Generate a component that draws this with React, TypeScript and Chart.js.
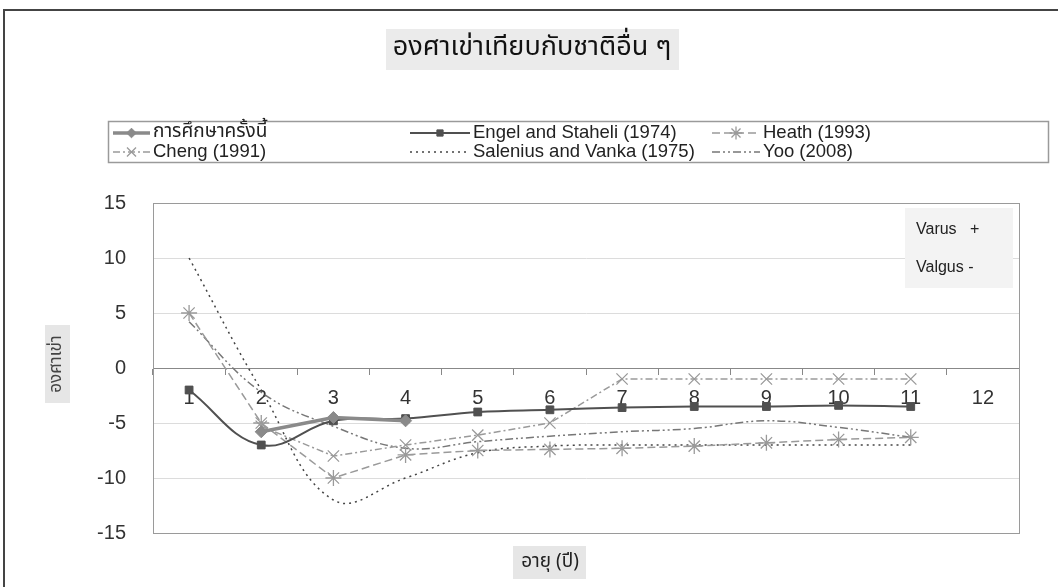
import React, { useEffect, useRef } from 'react';
import { Chart, registerables } from 'chart.js';
import { drawPoint } from 'chart.js/helpers';

Chart.register(...registerables);

const categories = ['1', '2', '3', '4', '5', '6', '7', '8', '9', '10', '11', '12'];
const studyValues = [null, -5.8, -4.5, -4.8, null, null, null, null, null, null, null, null];
const engelValues = [-2, -7, -4.8, -4.6, -4, -3.8, -3.6, -3.5, -3.5, -3.4, -3.5, null];
const heathValues = [5, -5, -10, -7.9, -7.5, -7.4, -7.3, -7.1, -6.8, -6.5, -6.3, null];
const chengValues = [null, -5.3, -8, -7, -6.1, -5, -1, -1, -1, -1, -1, null];
const saleniusValues = [10, -2, -12, -10, -7.7, -7.1, -7, -7, -7, -7, -7, null];
const yooValues = [4.2, -2.2, -5.3, -7.3, -6.7, -6.2, -5.8, -5.5, -4.8, -5.4, -6.3, null];
const seriesNames = [
  'การศึกษาครั้งนี้',
  'Engel and Staheli (1974)',
  'Heath (1993)',
  'Cheng (1991)',
  'Salenius and Vanka (1975)',
  'Yoo (2008)',
];
const yMin = -15;
const yMax = 15;
const yStep = 5;

const chartTitle = 'องศาเข่าเทียบกับชาติอื่น ๆ';
const yTitle = 'องศาเข่า';
const xTitle = 'อายุ (ปี)';
const noteLines = ['Varus   +', 'Valgus -'];

const LATIN = "'Liberation Sans', Arial, sans-serif";
const THAI = "'Noto Sans Thai', 'Noto Sans Thai UI', Loma, Garuda, Tahoma, 'DejaVu Sans', sans-serif";

function fillBox(ctx: CanvasRenderingContext2D, x: number, y: number, w: number, h: number, bg: string) {
  ctx.save();
  ctx.fillStyle = bg;
  ctx.fillRect(x, y, w, h);
  ctx.restore();
}

const legendSlots = [
  { x1: 113, x2: 150, tx: 153, y: 133 },
  { x1: 410, x2: 470, tx: 473, y: 133 },
  { x1: 712, x2: 760, tx: 763, y: 133 },
  { x1: 113, x2: 150, tx: 153, y: 152 },
  { x1: 410, x2: 470, tx: 473, y: 152 },
  { x1: 712, x2: 760, tx: 763, y: 152 },
];

const decorPlugin = {
  id: 'decor',
  beforeDraw(chart: any) {
    const ctx = chart.ctx as CanvasRenderingContext2D;
    ctx.save();
    ctx.fillStyle = '#ffffff';
    ctx.fillRect(0, 0, chart.width, chart.height);
    ctx.strokeStyle = '#444';
    ctx.lineWidth = 2;
    ctx.strokeRect(4, 10, chart.width + 20, chart.height + 20);
    ctx.restore();
  },
  beforeDatasetsDraw(chart: any) {
    const ctx = chart.ctx as CanvasRenderingContext2D;
    const a = chart.chartArea;
    ctx.save();
    ctx.strokeStyle = '#9a9a9a';
    ctx.lineWidth = 1;
    ctx.strokeRect(Math.round(a.left) + 0.5, Math.round(a.top) + 0.5, Math.round(a.right - a.left), Math.round(a.bottom - a.top));
    ctx.restore();
  },
  afterDraw(chart: any) {
    const ctx = chart.ctx as CanvasRenderingContext2D;
    ctx.save();
    fillBox(ctx, 386, 29, 293, 41, '#ebebeb');
    ctx.fillStyle = '#111';
    ctx.font = `27px ${THAI}`;
    ctx.textAlign = 'center';
    ctx.textBaseline = 'middle';
    ctx.fillText(chartTitle, 532, 50);

    ctx.strokeStyle = '#9a9a9a';
    ctx.lineWidth = 1.5;
    ctx.strokeRect(108.5, 121.5, 940, 41);

    chart.data.datasets.forEach((ds: any, i: number) => {
      const s = legendSlots[i];
      ctx.save();
      ctx.strokeStyle = ds.borderColor;
      ctx.lineWidth = ds.borderWidth;
      ctx.setLineDash(ds.borderDash || []);
      ctx.beginPath();
      ctx.moveTo(s.x1, s.y);
      ctx.lineTo(s.x2, s.y);
      ctx.stroke();
      ctx.setLineDash([]);
      if (ds.pointStyle && ds.pointRadius > 0) {
        ctx.fillStyle = ds.pointBackgroundColor;
        ctx.strokeStyle = ds.pointBorderColor;
        ctx.lineWidth = ds.pointBorderWidth;
        drawPoint(ctx, { pointStyle: ds.pointStyle, radius: ds.pointRadius * 0.8, borderWidth: ds.pointBorderWidth, rotation: 0 } as any, (s.x1 + s.x2) / 2, s.y);
      }
      ctx.restore();
      ctx.fillStyle = '#222';
      ctx.font = i === 0 ? `19px ${THAI}` : `18.5px ${LATIN}`;
      ctx.textAlign = 'left';
      ctx.textBaseline = 'middle';
      ctx.fillText(ds.label, s.tx, s.y);
    });

    fillBox(ctx, 905, 208, 108, 80, '#f3f3f3');
    ctx.fillStyle = '#222';
    ctx.font = `16px ${LATIN}`;
    ctx.textAlign = 'left';
    ctx.textBaseline = 'middle';
    ctx.fillText(noteLines[0], 916, 230);
    ctx.fillText(noteLines[1], 916, 268);

    fillBox(ctx, 45, 325, 25, 78, '#e6e6e6');
    ctx.save();
    ctx.translate(58, 364);
    ctx.rotate(-Math.PI / 2);
    ctx.fillStyle = '#444';
    ctx.font = `17px ${THAI}`;
    ctx.textAlign = 'center';
    ctx.textBaseline = 'middle';
    ctx.fillText(yTitle, 0, 0);
    ctx.restore();

    fillBox(ctx, 513, 546, 73, 33, '#e6e6e6');
    ctx.fillStyle = '#222';
    ctx.font = `19px ${THAI}`;
    ctx.textAlign = 'center';
    ctx.textBaseline = 'middle';
    ctx.fillText(xTitle, 550, 563);
    ctx.restore();
  },
};

export default function App() {
  const ref = useRef<HTMLCanvasElement | null>(null);
  useEffect(() => {
    if (!ref.current) return;
    const chart = new Chart(ref.current, {
      type: 'line',
      data: {
        labels: categories,
        datasets: [
          {
            label: seriesNames[0], data: studyValues, borderColor: '#8a8a8a', borderWidth: 3.5,
            pointStyle: 'rectRot', pointRadius: 6, pointBackgroundColor: '#8a8a8a', pointBorderColor: '#8a8a8a', pointBorderWidth: 1, tension: 0,
          },
          {
            label: seriesNames[1], data: engelValues, borderColor: '#505050', borderWidth: 2,
            pointStyle: 'rect', pointRadius: 5.5, pointBackgroundColor: '#505050', pointBorderColor: '#505050', pointBorderWidth: 1, tension: 0.4,
          },
          {
            label: seriesNames[2], data: heathValues, borderColor: '#9a9a9a', borderWidth: 1.5, borderDash: [8, 4],
            pointStyle: 'star', pointRadius: 8, pointBackgroundColor: '#9a9a9a', pointBorderColor: '#9a9a9a', pointBorderWidth: 1.3, tension: 0,
          },
          {
            label: seriesNames[3], data: chengValues, borderColor: '#9a9a9a', borderWidth: 1.5, borderDash: [7, 3, 2, 3],
            pointStyle: 'crossRot', pointRadius: 8, pointBackgroundColor: '#9a9a9a', pointBorderColor: '#9a9a9a', pointBorderWidth: 1.3, tension: 0,
          },
          {
            label: seriesNames[4], data: saleniusValues, borderColor: '#444', borderWidth: 1.5, borderDash: [2, 4],
            pointStyle: false as any, pointRadius: 0, tension: 0.4,
          },
          {
            label: seriesNames[5], data: yooValues, borderColor: '#777', borderWidth: 1.5, borderDash: [8, 3, 2, 3, 2, 3],
            pointStyle: false as any, pointRadius: 0, tension: 0.4,
          },
        ],
      },
      options: {
        responsive: false,
        animation: false,
        devicePixelRatio: 1,
        layout: { padding: { left: 0, right: 39, top: 203, bottom: 54 } },
        plugins: { legend: { display: false }, title: { display: false }, tooltip: { enabled: false } },
        scales: {
          x: {
            type: 'category',
            position: { y: 0 } as any,
            offset: true,
            afterFit: (s: any) => { s.height = 0; },
            grid: { drawOnChartArea: false, drawTicks: true, tickLength: 6, color: '#888', offset: true },
            border: { display: true, color: '#888', width: 1 },
            ticks: { color: '#333', font: { family: LATIN, size: 20 }, padding: 12, maxRotation: 0, autoSkip: false },
          },
          y: {
            min: yMin,
            max: yMax,
            afterFit: (s: any) => { s.width = 153; },
            grid: { color: '#dcdcdc', drawTicks: false, lineWidth: 1 },
            border: { display: true, color: '#888', width: 1 },
            ticks: { stepSize: yStep, color: '#333', font: { family: LATIN, size: 20 }, padding: 27 },
          },
        },
      },
      plugins: [decorPlugin],
    });
    return () => chart.destroy();
  }, []);
  return (
    <div style={{ position: 'absolute', left: 0, top: 0, width: 1058, height: 587, overflow: 'hidden' }}>
      <canvas ref={ref} width={1058} height={587} style={{ display: 'block' }} />
    </div>
  );
}
